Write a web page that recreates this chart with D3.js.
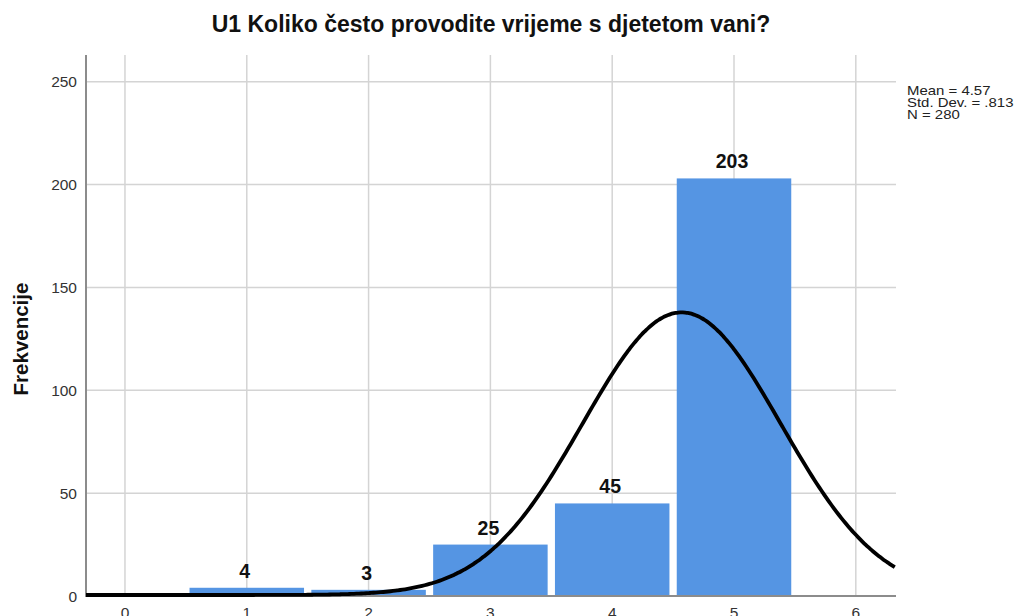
<!DOCTYPE html>
<html>
<head>
<meta charset="utf-8">
<script src="https://cdn.jsdelivr.net/npm/d3@7"></script>
<style>
  body { margin: 0; background: #fff; }
  svg { display: block; font-family: Arial, "Liberation Sans", sans-serif; }
</style>
</head>
<body>
<svg id="chart" width="1019" height="616"></svg>
<script>
// Histogram data
const categories = [1, 2, 3, 4, 5];
const counts = [4, 3, 25, 45, 203];
const xTicks = [0, 1, 2, 3, 4, 5, 6];
const yTicks = [0, 50, 100, 150, 200, 250];
const stats = ["Mean = 4.57", "Std. Dev. = .813", "N = 280"];
const mean = 4.57, sd = 0.813, n = 280;

const svg = d3.select("#chart");
const plot = { left: 86, right: 896, top: 55, bottom: 596 };

const x = d3.scaleLinear().domain([-0.32, 6.33]).range([plot.left, plot.right]);
const y = d3.scaleLinear().domain([0, 263]).range([plot.bottom, plot.top]);

// Title
svg.append("text")
  .attr("x", 491).attr("y", 32)
  .attr("text-anchor", "middle")
  .attr("font-size", "23px").attr("font-weight", "bold")
  .attr("fill", "#111")
  .text("U1 Koliko često provodite vrijeme s djetetom vani?");

// Gridlines
svg.append("g").selectAll("line")
  .data(xTicks).join("line")
  .attr("x1", (d) => x(d)).attr("x2", (d) => x(d))
  .attr("y1", plot.top).attr("y2", plot.bottom)
  .attr("stroke", "#d4d4d4").attr("stroke-width", 1.5);

svg.append("g").selectAll("line")
  .data(yTicks).join("line")
  .attr("x1", plot.left).attr("x2", plot.right)
  .attr("y1", (d) => y(d)).attr("y2", (d) => y(d))
  .attr("stroke", "#d4d4d4").attr("stroke-width", 1.5);

// Bars
const halfW = 0.47;
const barData = categories.map((c, i) => ({ c, v: counts[i] }));
svg.append("g").selectAll("rect")
  .data(barData)
  .join("rect")
  .attr("x", (d) => x(d.c - halfW))
  .attr("width", (d) => x(d.c + halfW) - x(d.c - halfW))
  .attr("y", (d) => y(d.v))
  .attr("height", (d) => y(0) - y(d.v))
  .attr("fill", "#5595e3");

// Bar labels
svg.append("g").selectAll("text")
  .data(barData)
  .join("text")
  .attr("x", (d) => x(d.c) - 2)
  .attr("y", (d) => y(d.v) - 10)
  .attr("text-anchor", "middle")
  .attr("font-size", "19.5px").attr("font-weight", "bold")
  .attr("fill", "#111")
  .text((d) => d.v);

// Axes lines
svg.append("line")
  .attr("x1", plot.left).attr("x2", plot.left)
  .attr("y1", plot.top).attr("y2", plot.bottom + 1)
  .attr("stroke", "#8c8c8c").attr("stroke-width", 2);
svg.append("line")
  .attr("x1", plot.left).attr("x2", plot.right)
  .attr("y1", plot.bottom).attr("y2", plot.bottom)
  .attr("stroke", "#8c8c8c").attr("stroke-width", 2);

// Normal curve
const curveX = d3.range(-0.32, 6.331, 0.02);
const normal = (v) => n / (sd * Math.sqrt(2 * Math.PI)) * Math.exp(-0.5 * ((v - mean) / sd) ** 2);
svg.append("path")
  .datum(curveX)
  .attr("d", d3.line().x((d) => x(d)).y((d) => y(normal(d)) - 1).curve(d3.curveBasis))
  .attr("fill", "none")
  .attr("stroke", "#000")
  .attr("stroke-width", 3.8);

// Tick labels
svg.append("g").selectAll("text")
  .data(yTicks).join("text")
  .attr("x", 77).attr("y", (d) => y(d) + 5.5)
  .attr("text-anchor", "end")
  .attr("font-size", "15.5px").attr("fill", "#333")
  .text((d) => d);

svg.append("g").selectAll("text")
  .data(xTicks).join("text")
  .attr("x", (d) => x(d)).attr("y", 618)
  .attr("text-anchor", "middle")
  .attr("font-size", "15.5px").attr("fill", "#333")
  .text((d) => d);

// Y axis title
svg.append("text")
  .attr("transform", "translate(28,339) rotate(-90)")
  .attr("text-anchor", "middle")
  .attr("font-size", "20.5px").attr("font-weight", "bold")
  .attr("fill", "#111")
  .text("Frekvencije");

// Stats legend
svg.append("g")
  .attr("transform", "translate(907,0) scale(1.15,1)")
  .selectAll("text")
  .data(stats).join("text")
  .attr("x", 0).attr("y", (d, i) => 95.5 + i * 11.6)
  .attr("font-size", "13px").attr("fill", "#222")
  .text((d) => d);
</script>
</body>
</html>
